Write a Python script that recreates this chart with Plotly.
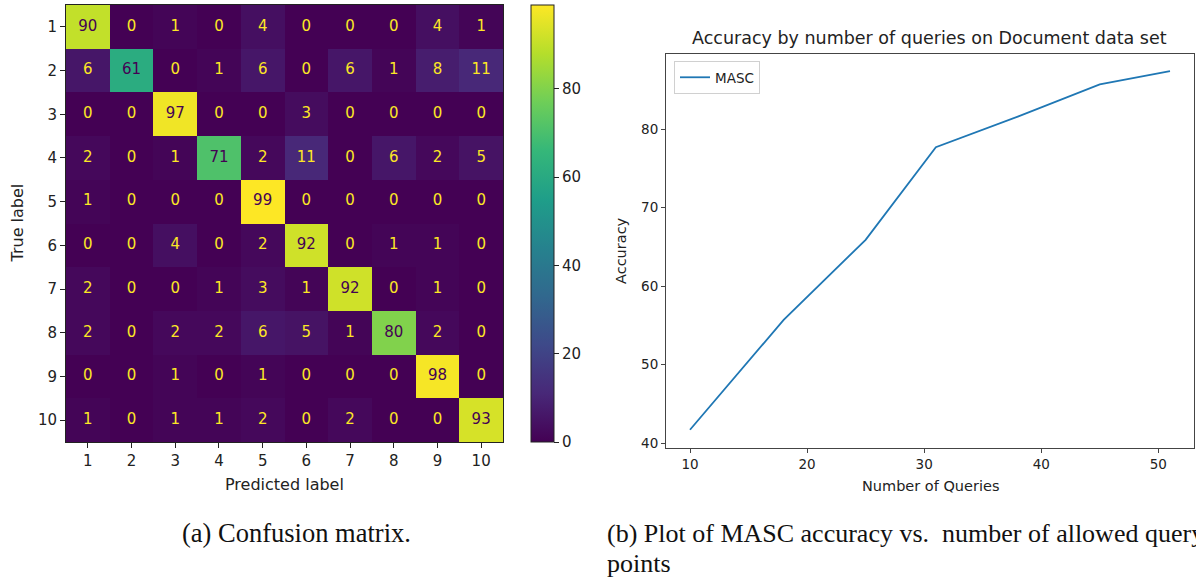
import plotly.graph_objects as go

# ---------------- data ----------------
class_labels = ["1", "2", "3", "4", "5", "6", "7", "8", "9", "10"]
confusion = [
    [90, 0, 1, 0, 4, 0, 0, 0, 4, 1],
    [6, 61, 0, 1, 6, 0, 6, 1, 8, 11],
    [0, 0, 97, 0, 0, 3, 0, 0, 0, 0],
    [2, 0, 1, 71, 2, 11, 0, 6, 2, 5],
    [1, 0, 0, 0, 99, 0, 0, 0, 0, 0],
    [0, 0, 4, 0, 2, 92, 0, 1, 1, 0],
    [2, 0, 0, 1, 3, 1, 92, 0, 1, 0],
    [2, 0, 2, 2, 6, 5, 1, 80, 2, 0],
    [0, 0, 1, 0, 1, 0, 0, 0, 98, 0],
    [1, 0, 1, 1, 2, 0, 2, 0, 0, 93],
]
colorbar_ticks = [0, 20, 40, 60, 80]

num_queries = [10, 18, 25, 31, 38, 45, 51]
masc_accuracy = [41.7, 55.7, 65.9, 77.7, 81.6, 85.7, 87.4]
acc_xticks = [10, 20, 30, 40, 50]
acc_yticks = [40, 50, 60, 70, 80]

# ---------------- figure ----------------
W, H = 1196, 578
fig = go.Figure()

n = len(class_labels)
xs = list(range(1, n + 1))
ys = list(range(1, n + 1))
zmin, zmax = 0, max(max(r) for r in confusion)
thresh = (zmin + zmax) / 2.0

fig.add_trace(go.Heatmap(
    z=confusion, x=xs, y=ys, colorscale="Viridis", zmin=zmin, zmax=zmax,
    xaxis="x", yaxis="y", hoverinfo="skip", xgap=0, ygap=0,
    colorbar=dict(
        x=531 / W, xanchor="left", xpad=0, ypad=0, thickness=23,
        lenmode="fraction", len=437 / H, y=1 - 223.5 / H, yanchor="middle",
        outlinewidth=1, outlinecolor="#222222",
        tickvals=colorbar_ticks, ticks="outside", ticklen=5, tickwidth=1,
        tickcolor="#222222",
        tickfont=dict(family="DejaVu Sans", size=15, color="#222222"),
    ),
))

tx, ty, tt, tc = [], [], [], []
for i, row in enumerate(confusion):
    for j, v in enumerate(row):
        tx.append(xs[j]); ty.append(ys[i]); tt.append(str(v))
        tc.append("#fde725" if v < thresh else "#440154")
fig.add_trace(go.Scatter(
    x=tx, y=ty, text=tt, mode="text", xaxis="x", yaxis="y",
    textfont=dict(family="DejaVu Sans", size=15, color=tc),
    hoverinfo="skip", showlegend=False,
))

fig.add_trace(go.Scatter(
    x=num_queries, y=masc_accuracy, mode="lines", name="MASC",
    line=dict(color="#1f77b4", width=1.8), xaxis="x2", yaxis="y2",
    showlegend=True,
))

axis_common = dict(showgrid=False, zeroline=False, showline=True, mirror=True,
                   ticks="outside", tickwidth=1, automargin=False)

fig.update_layout(
    width=W, height=H, margin=dict(l=0, r=0, t=0, b=0),
    paper_bgcolor="white", plot_bgcolor="white",
    xaxis=dict(domain=[66 / W, 503 / W], range=[0.5, n + 0.5],
               tickvals=xs, ticktext=class_labels, linecolor="#222222",
               linewidth=1, ticklen=5, tickcolor="#222222",
               tickfont=dict(family="DejaVu Sans", size=15, color="#222222"),
               **axis_common),
    yaxis=dict(domain=[1 - 442 / H, 1 - 5 / H], range=[n + 0.5, 0.5],
               tickvals=ys, ticktext=class_labels, linecolor="#222222",
               linewidth=1, ticklen=5, tickcolor="#222222",
               tickfont=dict(family="DejaVu Sans", size=15, color="#222222"),
               **axis_common),
    xaxis2=dict(domain=[666 / W, 1194 / W], range=[7.95, 53.05],
                tickvals=acc_xticks, linecolor="#444444", linewidth=1,
                ticklen=4, tickcolor="#444444", anchor="y2",
                tickfont=dict(family="DejaVu Sans", size=13.5, color="#222222"),
                **axis_common),
    yaxis2=dict(domain=[1 - 448 / H, 1 - 54 / H], range=[39.37, 89.58],
                tickvals=acc_yticks, linecolor="#444444", linewidth=1,
                ticklen=4, tickcolor="#444444", anchor="x2",
                tickfont=dict(family="DejaVu Sans", size=13.5, color="#222222"),
                **axis_common),
    legend=dict(x=674 / W, y=1 - 61 / H, xanchor="left", yanchor="top",
                bordercolor="#d0d0d0", borderwidth=1, bgcolor="white",
                font=dict(family="DejaVu Sans", size=13.5, color="#222222"),
                itemwidth=30, tracegroupgap=0),
    showlegend=True,
)

ann = [
    dict(text="True label", x=17 / W, y=1 - 223.5 / H, textangle=-90,
         font=dict(family="DejaVu Sans", size=16, color="#222222")),
    dict(text="Predicted label", x=284.5 / W, y=1 - 484 / H,
         font=dict(family="DejaVu Sans", size=16, color="#222222")),
    dict(text="Accuracy by number of queries on Document data set",
         x=929 / W, y=1 - 38 / H,
         font=dict(family="DejaVu Sans", size=17.5, color="#222222")),
    dict(text="Accuracy", x=621 / W, y=1 - 251 / H, textangle=-90,
         font=dict(family="DejaVu Sans", size=14.5, color="#222222")),
    dict(text="Number of Queries", x=930 / W, y=1 - 486 / H,
         font=dict(family="DejaVu Sans", size=14.5, color="#222222")),
    dict(text="(a) Confusion matrix.", x=296 / W, y=1 - 533 / H,
         font=dict(family="Liberation Serif", size=26.5, color="#111111")),
]
for a in ann:
    a.update(xref="paper", yref="paper", showarrow=False,
             xanchor="center", yanchor="middle")
    fig.add_annotation(**a)

for txt, yy in [("(b) Plot of MASC accuracy vs.&nbsp; number of allowed query", 533),
                ("points", 563)]:
    fig.add_annotation(text=txt, x=606 / W, y=1 - yy / H, xref="paper",
                       yref="paper", showarrow=False, xanchor="left",
                       yanchor="middle", borderpad=0,
                       font=dict(family="Liberation Serif", size=26,
                                 color="#111111"))

fig.write_html("out.html")
